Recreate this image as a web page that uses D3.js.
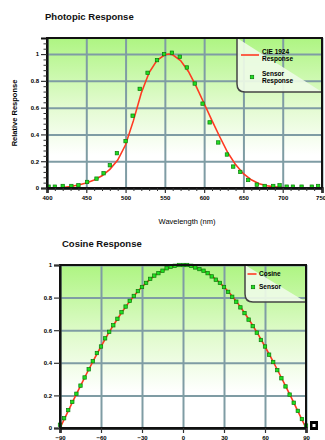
<!DOCTYPE html>
<html>
<head>
<meta charset="utf-8">
<script src="https://cdn.jsdelivr.net/npm/d3@7"></script>
<style>
  body { margin: 0; background: #fff; }
  svg { display: block; font-family: "Liberation Sans", Arial, sans-serif; }
  .tick-label { font-size: 6px; font-weight: bold; fill: #000; }
</style>
</head>
<body>
<div id="chart"></div>
<script>
// CIE photopic curve (nm, relative)
const cieWl = [400, 410, 420, 430, 440, 450, 460, 470, 480, 490, 500, 510, 520, 530, 540, 550, 555, 560, 570, 580, 590, 600, 610, 620, 630, 640, 650, 660, 670, 680, 690, 700, 710, 720, 730, 740, 750];
const cieVal = [0.0004, 0.0012, 0.004, 0.0116, 0.023, 0.038, 0.06, 0.091, 0.139, 0.208, 0.323, 0.503, 0.71, 0.862, 0.954, 0.995, 1.0, 0.995, 0.952, 0.87, 0.757, 0.631, 0.503, 0.381, 0.265, 0.175, 0.107, 0.061, 0.032, 0.017, 0.0082, 0.0041, 0.0021, 0.001, 0.0005, 0.0003, 0.0001];

// measured sensor photopic response
const sensWl = [402, 410, 420, 431, 440, 451, 463, 472, 480, 489, 500, 509, 518, 528, 540, 549, 559, 569, 578, 588, 598, 607, 618, 629, 637, 646, 656, 667, 677, 688, 696, 705, 713, 724, 737, 745];
const sensVal = [0.01, 0.01, 0.015, 0.015, 0.02, 0.045, 0.07, 0.11, 0.17, 0.26, 0.35, 0.54, 0.74, 0.86, 0.955, 1.0, 1.01, 0.98, 0.9, 0.78, 0.63, 0.49, 0.34, 0.25, 0.16, 0.12, 0.06, 0.025, 0.015, 0.015, 0.02, 0.01, 0.01, 0.01, 0.01, 0.015];

// ideal cosine (degrees, relative)
const cosAngle = [-90, -85, -80, -75, -70, -65, -60, -55, -50, -45, -40, -35, -30, -25, -20, -15, -10, -5, 0, 5, 10, 15, 20, 25, 30, 35, 40, 45, 50, 55, 60, 65, 70, 75, 80, 85, 90];
const cosVal = [0, 0.087, 0.174, 0.259, 0.342, 0.423, 0.5, 0.574, 0.643, 0.707, 0.766, 0.819, 0.866, 0.906, 0.94, 0.966, 0.985, 0.996, 1, 0.996, 0.985, 0.966, 0.94, 0.906, 0.866, 0.819, 0.766, 0.707, 0.643, 0.574, 0.5, 0.423, 0.342, 0.259, 0.174, 0.087, 0];

// measured sensor angular response
const sensAngle = [-90, -87, -84, -81, -78, -75, -72, -69, -66, -63, -60, -57, -54, -51, -48, -45, -42, -39, -36, -33, -30, -27, -24, -21, -18, -15, -12, -9, -6, -3, 0, 3, 6, 9, 12, 15, 18, 21, 24, 27, 30, 33, 36, 39, 42, 45, 48, 51, 54, 57, 60, 63, 66, 69, 72, 75, 78, 81, 84, 87, 90];
const sensCos = [0.02, 0.06, 0.11, 0.16, 0.21, 0.26, 0.31, 0.36, 0.41, 0.46, 0.5, 0.55, 0.59, 0.63, 0.67, 0.71, 0.745, 0.78, 0.81, 0.84, 0.865, 0.89, 0.915, 0.935, 0.95, 0.965, 0.98, 0.99, 0.995, 1.0, 1.0, 1.0, 0.995, 0.985, 0.975, 0.965, 0.95, 0.93, 0.91, 0.89, 0.865, 0.835, 0.805, 0.775, 0.74, 0.705, 0.665, 0.625, 0.585, 0.54, 0.5, 0.45, 0.405, 0.355, 0.305, 0.255, 0.205, 0.155, 0.105, 0.055, 0.015];

const yTicks = [0, 0.2, 0.4, 0.6, 0.8, 1];
const yTickText = ["0", "0.2", "0.4", "0.6", "0.8", "1"];
const wlTicks = [400, 450, 500, 550, 600, 650, 700, 750];
const angTicks = [-90, -60, -30, 0, 30, 60, 90];

const svg = d3.select("#chart").append("svg")
  .attr("width", 325).attr("height", 440);

const defs = svg.append("defs");
const grad = defs.append("linearGradient").attr("id", "bg")
  .attr("x1", 0).attr("y1", 0).attr("x2", 0).attr("y2", 1);
grad.append("stop").attr("offset", "0%").attr("stop-color", "#aef582");
grad.append("stop").attr("offset", "45%").attr("stop-color", "#e2fbcf");
grad.append("stop").attr("offset", "78%").attr("stop-color", "#ffffff");
grad.append("stop").attr("offset", "100%").attr("stop-color", "#ffffff");

const gridColor = "#7f9ca4";
const red = "#ff3a22";
const ms = 3.4; // marker size

function drawChart(o) {
  const x = d3.scaleLinear().domain(o.xDomain).range([o.left, o.right]);
  const y = d3.scaleLinear().domain(o.yDomain).range([o.bottom, o.top]);
  const g = svg.append("g");

  g.append("rect")
    .attr("x", o.left).attr("y", o.top)
    .attr("width", o.right - o.left).attr("height", o.bottom - o.top)
    .attr("fill", "url(#bg)");

  // grid
  g.append("g").attr("transform", `translate(0,${o.bottom})`)
    .call(d3.axisBottom(x).tickValues(o.xTicks).tickFormat("").tickSize(-(o.bottom - o.top)))
    .call(a => a.select(".domain").remove())
    .call(a => a.selectAll("line").attr("stroke", gridColor).attr("stroke-width", 2));
  g.append("g").attr("transform", `translate(${o.left},0)`)
    .call(d3.axisLeft(y).tickValues(yTicks).tickFormat("").tickSize(-(o.right - o.left)))
    .call(a => a.select(".domain").remove())
    .call(a => a.selectAll("line").attr("stroke", gridColor).attr("stroke-width", 2));

  // legend box
  const lg = o.legend;
  const r = 8;
  g.append("path")
    .attr("d", `M${lg.x},${o.top} V${lg.y2 - r} Q${lg.x},${lg.y2} ${lg.x + r},${lg.y2} H${o.right}`)
    .attr("fill", "#eefbe6").attr("fill-opacity", 0.92)
    .attr("stroke", "#444").attr("stroke-width", 1.5);

  // series
  const line = d3.line().x(d => x(d[0])).y(d => y(d[1]));
  g.append("path")
    .datum(d3.zip(o.lineX, o.lineY))
    .attr("d", line)
    .attr("fill", "none").attr("stroke", red).attr("stroke-width", 1.6);

  g.append("g").selectAll("rect")
    .data(d3.zip(o.ptX, o.ptY))
    .join("rect")
    .attr("x", d => x(d[0]) - ms / 2).attr("y", d => y(d[1]) - ms / 2)
    .attr("width", ms).attr("height", ms)
    .attr("fill", "#20e020").attr("stroke", "#0b7a0b").attr("stroke-width", 0.7);

  // frame
  g.append("rect")
    .attr("x", o.left).attr("y", o.top)
    .attr("width", o.right - o.left).attr("height", o.bottom - o.top)
    .attr("fill", "none").attr("stroke", "#111").attr("stroke-width", 2);

  // axes
  const ax = g.append("g").attr("transform", `translate(0,${o.bottom})`)
    .call(d3.axisBottom(x).tickValues(o.xTicks).tickSize(5).tickPadding(3));
  ax.select(".domain").attr("stroke", "#111").attr("stroke-width", 2.5);
  ax.selectAll("line").attr("stroke", "#333").attr("stroke-width", 1.2);
  ax.selectAll("text").attr("class", "tick-label");
  // keep the right-most label inside the page
  ax.selectAll("text").filter(d => x(d) > 318).attr("text-anchor", "end").attr("dx", "0.6em");
  if (o.xMinor) {
    g.append("g").attr("transform", `translate(0,${o.bottom})`)
      .call(d3.axisBottom(x).tickValues(o.xMinor).tickFormat("").tickSize(3))
      .call(a => a.select(".domain").remove())
      .call(a => a.selectAll("line").attr("stroke", "#333").attr("stroke-width", 1));
  }
  const ay = g.append("g").attr("transform", `translate(${o.left},0)`)
    .call(d3.axisLeft(y).tickValues(yTicks).tickFormat((d, i) => yTickText[i]).tickSize(6).tickPadding(2));
  ay.select(".domain").attr("stroke", "#111").attr("stroke-width", 2);
  ay.selectAll("line").attr("stroke", "#333").attr("stroke-width", 1.2);
  ay.selectAll("text").attr("class", "tick-label");
  if (o.yMinor) {
    g.append("g").attr("transform", `translate(${o.left},0)`)
      .call(d3.axisLeft(y).tickValues(o.yMinor).tickFormat("").tickSize(3.5))
      .call(a => a.select(".domain").remove())
      .call(a => a.selectAll("line").attr("stroke", "#333").attr("stroke-width", 1));
  }

  // legend entries
  lg.items.forEach(it => {
    if (it.kind === "line") {
      g.append("line").attr("x1", it.sx - it.len / 2).attr("x2", it.sx + it.len / 2)
        .attr("y1", it.y).attr("y2", it.y).attr("stroke", red).attr("stroke-width", 1.6);
    } else {
      g.append("rect").attr("x", it.sx - ms / 2).attr("y", it.y - ms / 2).attr("width", ms).attr("height", ms)
        .attr("fill", "#20e020").attr("stroke", "#0b7a0b").attr("stroke-width", 0.7);
    }
    const t = g.append("text").attr("x", it.tx).attr("y", it.y - (it.lines.length - 1) * 3.5 + 2)
      .attr("font-size", 6.5).attr("font-weight", "bold").attr("fill", "#000");
    it.lines.forEach((s, i) => t.append("tspan").attr("x", it.tx).attr("dy", i ? 7 : 0).text(s));
  });

  // title
  svg.append("text").attr("x", o.titleX).attr("y", o.titleY)
    .attr("font-size", 9.5).attr("font-weight", "bold").attr("fill", "#111")
    .text(o.title);
}

drawChart({
  left: 47, right: 322, top: 38, bottom: 188,
  xDomain: [400, 750], yDomain: [0, 1.12],
  xTicks: wlTicks,
  xMinor: d3.range(400, 751, 10).filter(v => v % 50 !== 0),
  yMinor: [0.04, 0.08, 0.12, 0.16, 0.24, 0.28, 0.32, 0.36, 0.44, 0.48, 0.52, 0.56, 0.64, 0.68, 0.72, 0.76, 0.84, 0.88, 0.92, 0.96, 1.04, 1.08],
  lineX: cieWl, lineY: cieVal, ptX: sensWl, ptY: sensVal,
  legend: {
    x: 237, y2: 92,
    items: [
      { kind: "line", sx: 250, len: 18, y: 55, tx: 262, lines: ["CIE 1924", "Response"] },
      { kind: "pt", sx: 252, y: 77, tx: 262, lines: ["Sensor", "Response"] }
    ]
  },
  title: "Photopic Response", titleX: 45, titleY: 20
});

drawChart({
  left: 60, right: 306, top: 265, bottom: 428,
  xDomain: [-90, 90], yDomain: [0, 1],
  xTicks: angTicks,
  lineX: cosAngle, lineY: cosVal, ptX: sensAngle, ptY: sensCos,
  legend: {
    x: 245, y2: 302,
    items: [
      { kind: "line", sx: 252, len: 9, y: 274, tx: 259, lines: ["Cosine"] },
      { kind: "pt", sx: 253, y: 287, tx: 259, lines: ["Sensor"] }
    ]
  },
  title: "Cosine Response", titleX: 62, titleY: 247
});

// axis titles for the photopic chart
svg.append("text")
  .attr("transform", "translate(17,113) rotate(-90)")
  .attr("text-anchor", "middle").attr("font-size", 7.5).attr("font-weight", "bold")
  .text("Relative Response");
svg.append("text")
  .attr("x", 187).attr("y", 224)
  .attr("text-anchor", "middle").attr("font-size", 7.5)
  .text("Wavelength (nm)");

// small marker box next to the cosine chart
svg.append("rect").attr("x", 310).attr("y", 421).attr("width", 8).attr("height", 9).attr("fill", "#000");
svg.append("rect").attr("x", 312.5).attr("y", 424).attr("width", 3).attr("height", 3).attr("fill", "#fff");
</script>
</body>
</html>
